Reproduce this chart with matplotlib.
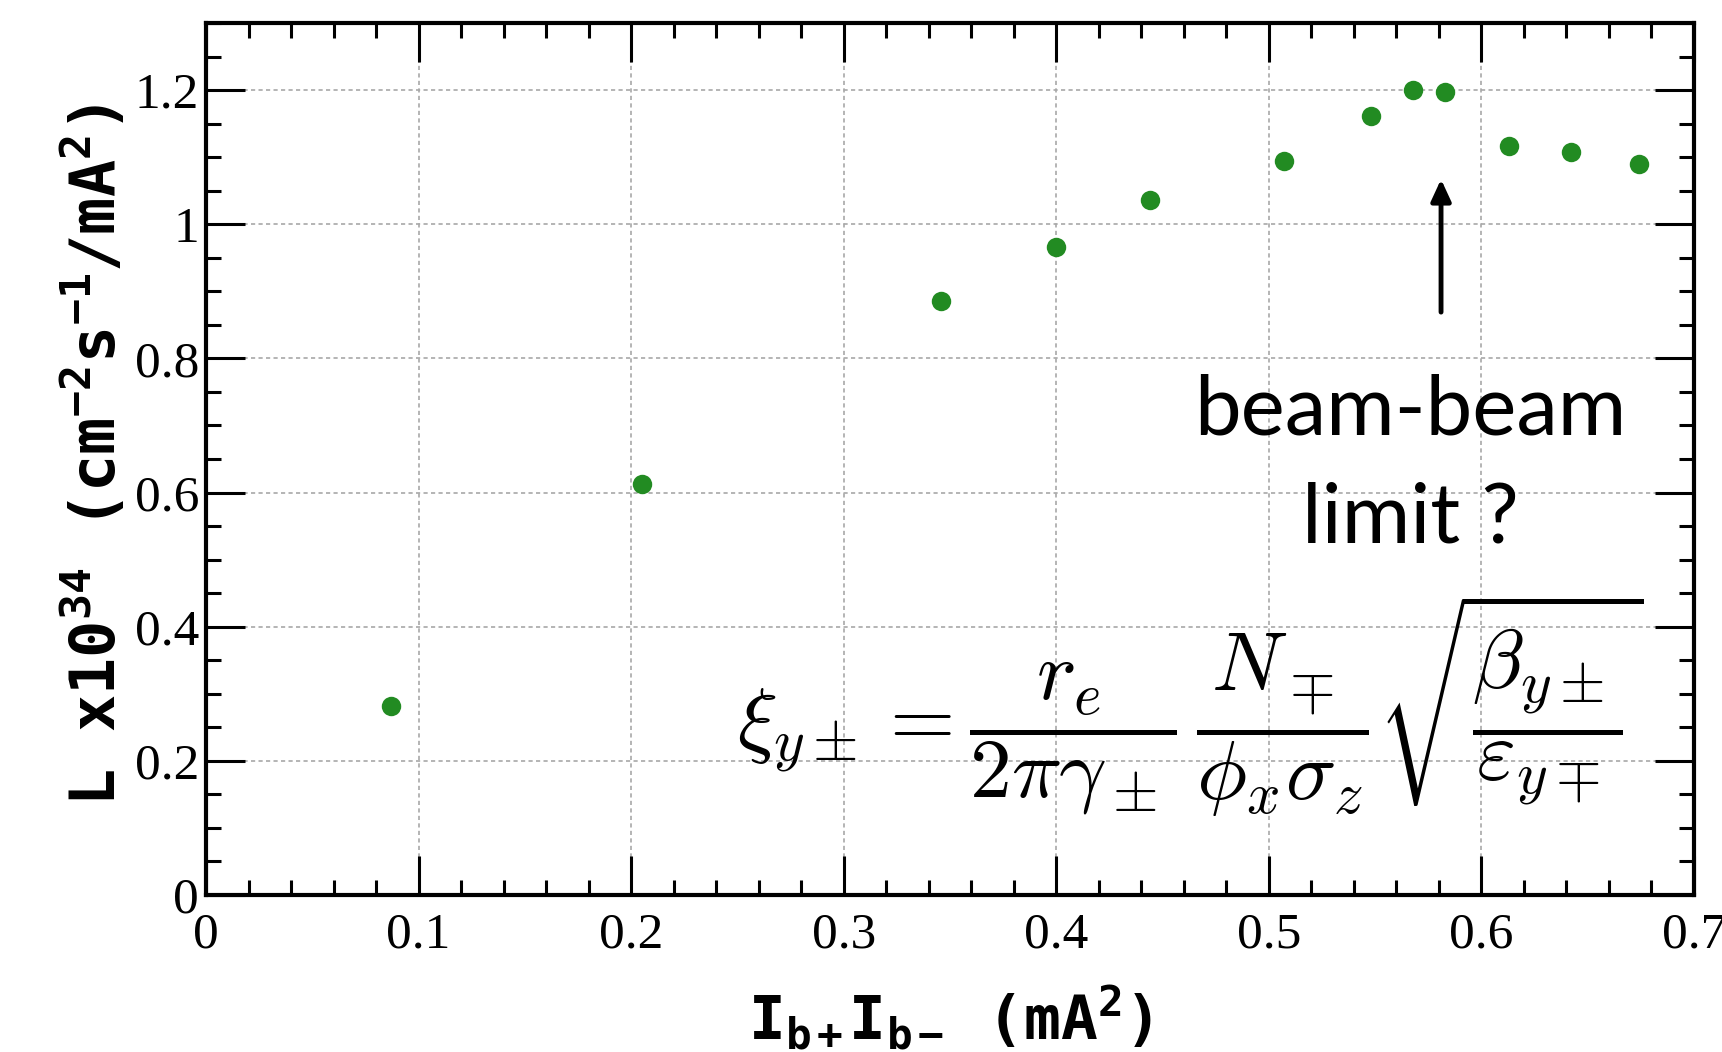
import matplotlib
matplotlib.use("Agg")
import matplotlib.pyplot as plt
from matplotlib.ticker import MultipleLocator, FormatStrFormatter

# ---- data ----
current_product = [0.087, 0.205, 0.346, 0.400, 0.444, 0.507, 0.548, 0.568, 0.583, 0.613, 0.642, 0.674]
luminosity = [0.282, 0.612, 0.886, 0.966, 1.036, 1.094, 1.161, 1.200, 1.197, 1.117, 1.107, 1.090]
x_ticks = [0, 0.1, 0.2, 0.3, 0.4, 0.5, 0.6, 0.7]
y_ticks = [0, 0.2, 0.4, 0.6, 0.8, 1.0, 1.2]
arrow_x = 0.581
arrow_tail_y = 0.869
arrow_head_y = 1.067

plt.rcParams['mathtext.fontset'] = 'custom'
plt.rcParams['mathtext.rm'] = 'DejaVu Sans Mono:bold'
plt.rcParams['mathtext.it'] = 'DejaVu Sans Mono:bold'
plt.rcParams['mathtext.bf'] = 'DejaVu Sans Mono:bold'

fig = plt.figure(figsize=(17.22, 10.52), dpi=100)
ax = fig.add_axes([206/1722, 157/1052, 1488/1722, 872/1052])

ax.set_xlim(0, 0.7)
ax.set_ylim(0, 1.3)

ax.grid(True, which='major', color='#a8a8a8', linestyle=(0, (2.5, 2)), linewidth=1.2, zorder=0)
ax.set_axisbelow(True)

ax.plot(current_product, luminosity, 'o', color='#228B22', markersize=14, markeredgewidth=0, zorder=3)

ax.set_xticks(x_ticks)
ax.set_yticks(y_ticks)
ax.xaxis.set_minor_locator(MultipleLocator(0.02))
ax.yaxis.set_minor_locator(MultipleLocator(0.05))
ax.xaxis.set_major_formatter(FormatStrFormatter('%g'))
ax.yaxis.set_major_formatter(FormatStrFormatter('%g'))

ax.tick_params(which='both', direction='in', top=True, right=True, width=2.2, color='black')
ax.tick_params(which='major', length=28)
ax.tick_params(which='minor', length=11)
ax.tick_params(axis='x', which='major', pad=12)
ax.tick_params(axis='y', which='major', pad=5)
for lab in ax.get_xticklabels() + ax.get_yticklabels():
    lab.set_fontfamily('Liberation Serif')
    lab.set_fontsize(37)
for sp in ax.spines.values():
    sp.set_linewidth(3)

# axis labels
fig.text(94/1722, 0.5675, r'L x10$^{34}$ (cm$^{-2}$s$^{-1}$/mA$^{2}$)', rotation=90,
         ha='center', va='center', fontsize=44.5, fontfamily='DejaVu Sans Mono', fontweight='bold')
fig.text(950/1722, 12/1052, r'I$_{b+}$I$_{b-}$ (mA$^{2}$)', ha='center', va='baseline',
         fontsize=44, fontfamily='DejaVu Sans Mono', fontweight='bold')

# annotation
ax.annotate('', xy=(arrow_x, arrow_head_y), xytext=(arrow_x, arrow_tail_y),
            arrowprops=dict(arrowstyle='-|>,head_length=1.3,head_width=0.6', color='black', lw=3.5,
                            shrinkA=0, shrinkB=0), zorder=4)
ax.text(0.5664, 0.687, 'beam-beam', ha='center', va='baseline', fontsize=60, fontfamily='Lato')
ax.text(0.5664, 0.525, 'limit ?', ha='center', va='baseline', fontsize=60, fontfamily='Lato')

ax.text(0.4630, 0.282,
        r'$\xi_{y\pm} = \dfrac{r_e}{2\pi\gamma_\pm}\,\dfrac{N_\mp}{\phi_x\sigma_z}\sqrt{\dfrac{\beta_{y\pm}}{\varepsilon_{y\mp}}}$',
        ha='center', va='center', fontsize=60.5, math_fontfamily='cm', zorder=5)

fig.savefig('out.png', dpi=100)
